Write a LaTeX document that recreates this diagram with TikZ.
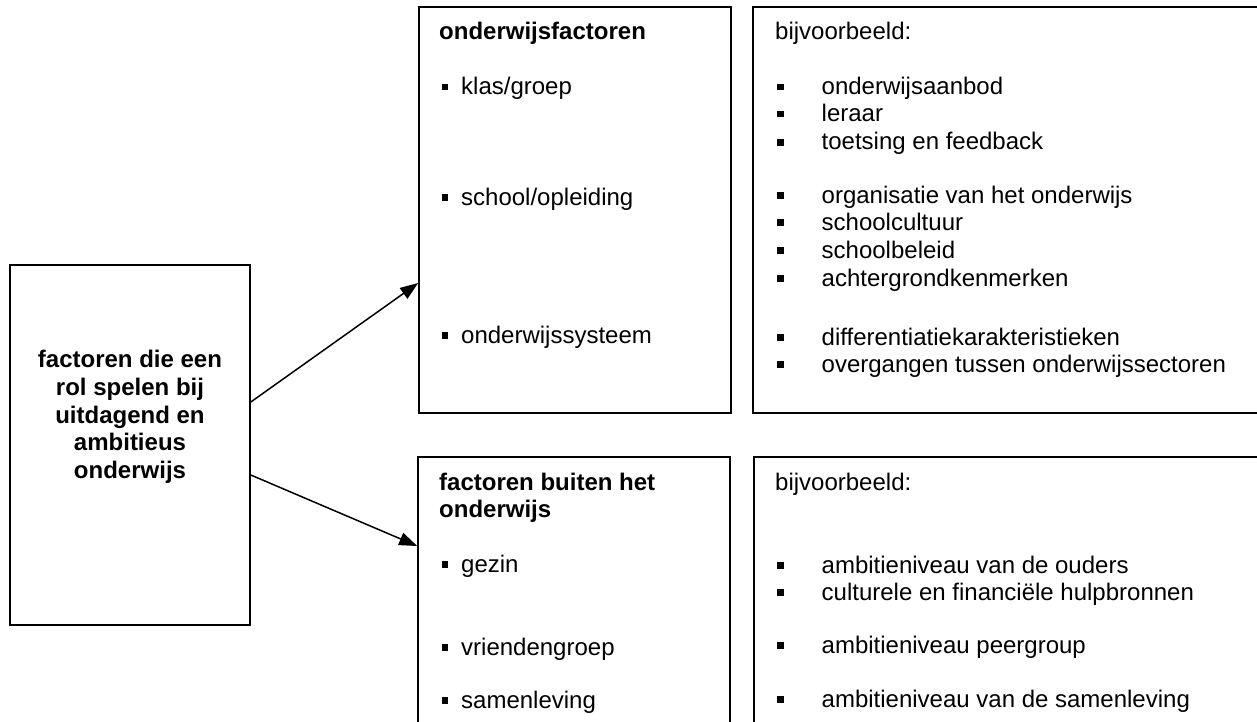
\documentclass[tikz,border=0pt]{standalone}
\usepackage{fontspec}
\setmainfont{Liberation Sans}
\usetikzlibrary{arrows.meta}
\newcommand\mybul{\rule[4.5pt]{6.5pt}{6.5pt}}
\begin{document}
\begin{tikzpicture}[x=1pt,y=-1pt,
 box/.style={draw=black, line width=1.6pt, inner sep=0pt, rectangle},
 txt/.style={anchor=base west, inner sep=0pt, font=\fontsize{24}{27.5}\selectfont},
 ttl/.style={txt, font=\fontsize{24}{27.5}\selectfont\bfseries},
 ctr/.style={anchor=base, inner sep=0pt, font=\fontsize{24}{27.5}\selectfont\bfseries},
 arr/.style={line width=1.5pt, -{Triangle[length=18pt,width=13pt]}}]
\useasboundingbox (0,0) rectangle (1257,722);
\clip (0,0) rectangle (1257,722);
\fill[white] (0,0) rectangle (1257,722);
% boxes
\node[box, minimum width=240pt, minimum height=360pt] (L) at (130,445) {};
\node[box, minimum width=312pt, minimum height=406pt] (TM) at (575,210) {};
\node[box, minimum width=527pt, minimum height=406pt] (TR) at (1016.5,210) {};
\node[box, minimum width=312pt, minimum height=303pt] (BM) at (574,608.5) {};
\node[box, minimum width=526pt, minimum height=303pt] (BR) at (1017,608.5) {};
% arrows
\draw[arr] (L.east |- 0,402) -- (TM.west |- 0,283);
\draw[arr] (L.east |- 0,475) -- (BM.west |- 0,546);
% left box text
\node[ctr] (l1) at (130,367) {factoren die een};
\node[ctr] (l2) at (130,395) {rol spelen bij};
\node[ctr] (l3) at (130,423) {uitdagend en};
\node[ctr] (l4) at (130,450) {ambitieus};
\node[ctr] (l5) at (130,478) {onderwijs};
% top middle
\node[ttl] (tm0) at (439,40) {onderwijsfactoren};
\node[txt] (tm1) at (441.5,95) {\mybul\hspace{13pt}klas/groep};
\node[txt] (tm2) at (441.5,205) {\mybul\hspace{13pt}school/opleiding};
\node[txt] (tm3) at (441.5,343) {\mybul\hspace{13pt}onderwijssysteem};
% top right
\node[txt] (tr0) at (775,40) {bijvoorbeeld:};
\node[txt] (tr1) at (777,95) {\mybul\hspace{38pt}onderwijsaanbod};
\node[txt] (tr2) at (777,122) {\mybul\hspace{38pt}leraar};
\node[txt] (tr3) at (777,150) {\mybul\hspace{38pt}toetsing en feedback};
\node[txt] (tr4) at (777,203) {\mybul\hspace{38pt}organisatie van het onderwijs};
\node[txt] (tr5) at (777,230) {\mybul\hspace{38pt}schoolcultuur};
\node[txt] (tr6) at (777,258) {\mybul\hspace{38pt}schoolbeleid};
\node[txt] (tr7) at (777,286) {\mybul\hspace{38pt}achtergrondkenmerken};
\node[txt] (tr8) at (777,345) {\mybul\hspace{38pt}differentiatiekarakteristieken};
\node[txt] (tr9) at (777,372) {\mybul\hspace{38pt}overgangen tussen onderwijssectoren};
% bottom middle
\node[ttl] (bm0) at (439,490) {factoren buiten het};
\node[ttl] (bm0b) at (439,517) {onderwijs};
\node[txt] (bm1) at (441.5,572) {\mybul\hspace{13pt}gezin};
\node[txt] (bm2) at (441.5,655) {\mybul\hspace{13pt}vriendengroep};
\node[txt] (bm3) at (441.5,708) {\mybul\hspace{13pt}samenleving};
% bottom right
\node[txt] (br0) at (775,490) {bijvoorbeeld:};
\node[txt] (br1) at (777,573) {\mybul\hspace{38pt}ambitieniveau van de ouders};
\node[txt] (br2) at (777,600) {\mybul\hspace{38pt}culturele en financiële hulpbronnen};
\node[txt] (br3) at (777,653) {\mybul\hspace{38pt}ambitieniveau peergroup};
\node[txt] (br4) at (777,707) {\mybul\hspace{38pt}ambitieniveau van de samenleving};
\end{tikzpicture}
\end{document}
